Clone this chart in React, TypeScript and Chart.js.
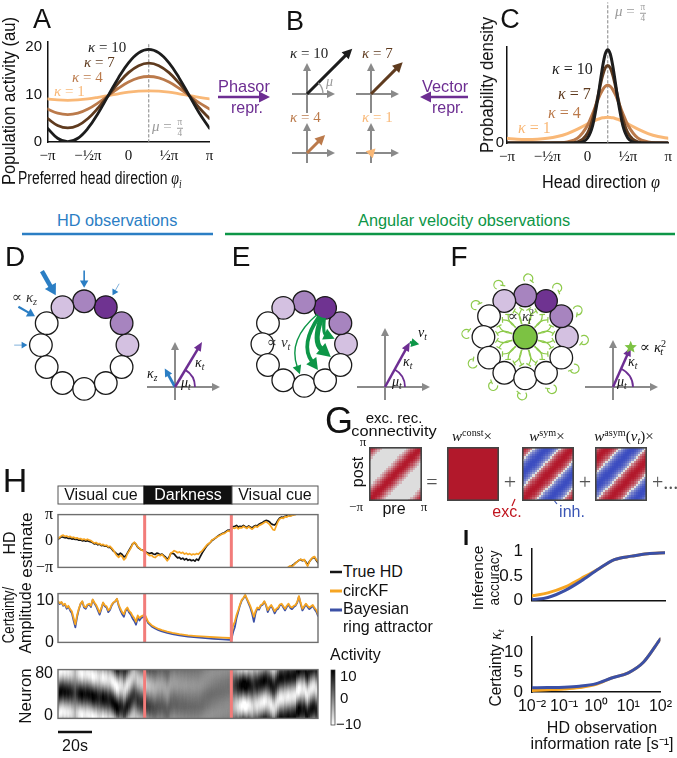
import React, { useEffect, useLayoutEffect, useRef } from "react";
import { Chart, registerables } from "chart.js";
Chart.register(...registerables);

const PI = Math.PI;
const SANS = '"Liberation Sans", Arial, Helvetica, sans-serif';
const SERIF = '"Liberation Serif", "DejaVu Serif", "Times New Roman", serif';
const ORANGE = "#f6a522";
const BLUE = "#3b50a6";
const PURPLE = "#6d2e92";
const GREEN = "#0d9647";
const HDBLUE = "#2b7ec4";
const LGREEN = "#8dca4a";
const REDLINE = "#f27c7a";

// ---------------- DATA ----------------
const piTicks = [-1, -0.5, 0, 0.5, 1];
const piTickLabels = ["−π", "−½π", "0", "½π", "π"];
const muDirPi = 0.25;
const kappaLevels = [10, 7, 4, 1];
const kappaColors = ["#1d1d1d", "#5f3b1f", "#bb7a4b", "#f9b877"];

// Panel A: population activity (φ in units of π)
const phiA = [-1, -0.875, -0.75, -0.625, -0.5, -0.375, -0.25, -0.125, 0, 0.125, 0.25, 0.375, 0.5, 0.625, 0.75, 0.875, 1];
const popK10 = [2.89, 0.79, 0.05, 0.79, 2.89, 6.04, 9.75, 13.46, 16.61, 18.71, 19.45, 18.71, 16.61, 13.46, 9.75, 6.04, 2.89];
const popK7 = [4.94, 3.47, 2.95, 3.47, 4.94, 7.15, 9.75, 12.35, 14.56, 16.03, 16.55, 16.03, 14.56, 12.35, 9.75, 7.15, 4.94];
const popK4 = [6.92, 6.05, 5.75, 6.05, 6.92, 8.22, 9.75, 11.28, 12.58, 13.45, 13.75, 13.45, 12.58, 11.28, 9.75, 8.22, 6.92];
const popK1 = [9.04, 8.83, 8.75, 8.83, 9.04, 9.37, 9.75, 10.13, 10.46, 10.67, 10.75, 10.67, 10.46, 10.13, 9.75, 9.37, 9.04];

// Panel C: probability density (φ in units of π)
const phiC = [-1, -0.875, -0.75, -0.625, -0.5, -0.375, -0.25, -0.125, 0, 0.0625, 0.125, 0.15625, 0.1875, 0.21875, 0.25, 0.28125, 0.3125, 0.34375, 0.375, 0.4375, 0.5, 0.625, 0.75, 0.875, 1];
const densK10 = [0, 0, 0, 0, 0, 0, 0.0001, 0.0026, 0.0665, 0.231, 0.582, 0.809, 1.028, 1.187, 1.245, 1.187, 1.028, 0.809, 0.582, 0.231, 0.0665, 0.0026, 0.0001, 0, 0];
const densK7 = [0, 0, 0, 0, 0, 0.0001, 0.0009, 0.0138, 0.133, 0.318, 0.608, 0.765, 0.905, 1.001, 1.035, 1.001, 0.905, 0.765, 0.608, 0.318, 0.133, 0.0138, 0.0009, 0.0001, 0];
const densK4 = [0.0008, 0.0003, 0.0003, 0.0003, 0.0008, 0.003, 0.0141, 0.0651, 0.238, 0.392, 0.567, 0.647, 0.712, 0.754, 0.769, 0.754, 0.712, 0.647, 0.567, 0.392, 0.238, 0.0651, 0.0141, 0.003, 0.0008];
const densK1 = [0.062, 0.05, 0.0463, 0.05, 0.062, 0.0858, 0.1258, 0.1845, 0.2552, 0.289, 0.317, 0.3276, 0.3355, 0.3404, 0.342, 0.3404, 0.3355, 0.3276, 0.317, 0.289, 0.2552, 0.1845, 0.1258, 0.0858, 0.062];

// Panel B: phasors
const bKappa = [10, 7, 4, 1];
const bMuDeg = 45;

// Panels D/E/F: ring network
const ringAngles = [0, 30, 60, 90, 120, 150, 180, 210, 240, 270, 300, 330];
const ringShade = [1, 2, 3, 2, 1, 0, 0, 0, 0, 0, 0, 0];
const shadeColors = ["#ffffff", "#d4c1e1", "#a784bf", "#6f3391"];
const hdObsAngles = [180, 150, 120, 90, 60];
const hdObsWeights = [0.6, 2.2, 4.5, 1.6, 0.6];
const dKappaT = 8.2, dMuT = 59, dKappaZ = 3.3, dMuZ = 119;
const velSource = 60;
const velTargets = [0, -30, -60, -90];
const velWeights = [3.4, 5.2, 3.8, 1.4];
const eKappaT = 8.0, eMuT = 61, eVtLen = 1.5, eVtDeg = -12;
const fKappaT = 6.8, fMuT = 66;

// Panel G: connectivity profiles vs (post - pre), 24 steps
const gConn = [1, 0.96, 0.82, 0.62, 0.4, 0.2, 0.07, 0, 0, 0, 0, 0, 0, 0, 0, 0, 0, 0, 0.07, 0.2, 0.4, 0.62, 0.82, 0.96];
const gConst = [1, 1, 1, 1, 1, 1, 1, 1, 1, 1, 1, 1, 1, 1, 1, 1, 1, 1, 1, 1, 1, 1, 1, 1];
const gSym = [1, 0.966, 0.866, 0.707, 0.5, 0.259, 0, -0.259, -0.5, -0.707, -0.866, -0.966, -1, -0.966, -0.866, -0.707, -0.5, -0.259, 0, 0.259, 0.5, 0.707, 0.866, 0.966];
const gAsym = [0, -0.259, -0.5, -0.707, -0.866, -0.966, -1, -0.966, -0.866, -0.707, -0.5, -0.259, 0, 0.259, 0.5, 0.707, 0.866, 0.966, 1, 0.966, 0.866, 0.707, 0.5, 0.259];

// Panel H: time series (s)
const darkStart = 50, darkEnd = 100;
const hdTime = Array.from({ length: 151 }, (_, i) => i);
const trueHD = [0.2, 0.35, 0.5, 0.45, 0.38, 0.42, 0.3, 0.35, 0.22, 0.28,
  0.18, 0.2, 0.1, 0.12, 0.02, 0.08, -0.02, 0.05, -0.05, -0.1,
  -0.2, -0.35, -0.28, -0.45, -0.38, -0.55, -0.5, -0.62, -0.58, -0.75,
  -0.72, -0.95, -1.2, -1.35, -1.55, -1.65, -1.45, -1.6, -1.9, -1.8,
  -1.45, -1.1, -0.75, -0.35, -0.2, -0.4, -0.75, -0.9, -1.05, -1.1,
  -1.2, -1.35, -1.45, -1.5, -1.4, -1.55, -1.6, -1.45, -1.5, -1.65,
  -1.55, -1.75, -1.9, -2.2, -1.95, -1.5, -1.45, -1.55, -1.8, -2.0,
  -1.95, -2.15, -2.05, -2.25, -2.1, -2.3, -2.2, -2.35, -2.25, -2.4,
  -2.15, -2.3, -1.9, -1.5, -1.15, -0.85, -0.55, -0.35, -0.15, 0.1,
  0.22, 0.38, 0.55, 0.7, 0.8, 0.92, 0.98, 1.15, 1.3, 1.25,
  1.5, 1.7, 1.75, 1.85, 1.65, 1.75, 1.7, 1.85, 1.7, 1.6,
  1.8, 1.65, 1.55, 1.75, 1.85, 1.8, 2.0, 2.1, 2.2, 2.35,
  2.45, 2.4, 2.3, 2.05, 1.95, 1.9, 2.15, 2.5, 2.75, 2.85,
  2.8, 2.95, 3.0, 3.05, 3.0, 3.1, 3.14, null, null, null,
  null, null, null, null, null, null, null, null, null, null, null];
const kfHD = [0.3, 0.45, 0.62, 0.7, 0.55, 0.6, 0.48, 0.55, 0.4, 0.45,
  0.32, 0.38, 0.25, 0.3, 0.15, 0.24, 0.12, 0.22, 0.1, 0.05,
  -0.12, -0.25, -0.18, -0.35, -0.3, -0.47, -0.4, -0.55, -0.5, -0.7,
  -0.62, -0.85, -1.1, -1.45, -1.75, -1.95, -1.7, -1.85, -2.25, -2.05,
  -1.55, -1.2, -0.85, -0.4, -0.15, -0.35, -0.7, -0.85, -1.05, -1.15,
  -1.25, -1.45, -1.6, -1.75, -1.7, -1.9, -1.97, -1.8, -1.65, -1.75,
  -1.6, -1.85, -2.05, -2.35, -2.1, -1.45, -1.35, -1.15, -1.25, -1.4,
  -1.3, -1.45, -1.35, -1.55, -1.45, -1.6, -1.5, -1.65, -1.55, -1.62,
  -1.5, -1.58, -1.35, -1.2, -0.95, -0.7, -0.45, -0.3, -0.1, 0.15,
  0.25, 0.4, 0.5, 0.62, 0.75, 0.85, 0.9, 1.05, 1.2, 1.15,
  1.35, 1.55, 1.5, 1.65, 1.45, 1.6, 1.55, 1.75, 1.6, 1.5,
  1.7, 1.55, 1.4, 1.6, 1.75, 1.65, 1.85, 1.95, 2.05, 2.2,
  2.3, 2.15, 2.0, 1.7, 1.35, 1.3, 1.85, 2.35, 2.65, 2.75,
  2.7, 2.9, 2.85, 3.0, 2.95, 3.05, 3.1, 3.14, null, null,
  null, null, null, null, null, null, null, null, null, null, null];
const wrapTime = [133, 134, 135, 136, 137, 138, 139, 140, 141, 142, 143, 144, 145, 146, 147, 148, 149, 150];
const trueHDWrap = [-3.14, -3.05, -2.95, -2.8, -2.6, -2.45, -2.3, -2.2, -2.35, -2.25, -2.5, -2.85, -2.45, -2.2, -2.0, -1.95, -2.3, -2.6];
const kfHDWrap = [-3.1, -2.95, -3.08, -2.85, -2.65, -2.45, -2.3, -2.15, -2.3, -2.2, -2.6, -3.0, -2.5, -2.15, -1.95, -1.85, -2.2, -2.45];
const darkTimes = [52, 54, 56, 58, 60, 63, 66, 70, 75, 80, 85, 90, 95, 99];
const certTime = [...Array.from({ length: 51 }, (_, i) => i), ...darkTimes, ...Array.from({ length: 51 }, (_, i) => 100 + i)];
const kfCert = [9.8, 9.3, 9.6, 8.9, 9.2, 8.3, 8.7, 7.9, 7.4, 5.8,
  4.3, 6.5, 8.0, 9.2, 9.8, 8.6, 8.3, 9.0, 9.2, 8.7,
  10.2, 9.5, 8.9, 8.0, 7.1, 8.2, 9.5, 8.8, 8.6, 7.6,
  8.0, 9.0, 9.5, 9.8, 10.4, 9.0, 8.0, 7.2, 6.7, 7.8,
  8.3, 7.5, 7.1, 6.3, 5.8, 4.9, 6.4, 5.8, 6.2, 6.4, 6.7,
  4.9, 4.1, 3.6, 3.2, 2.9, 2.55, 2.25, 1.95, 1.68, 1.5, 1.35, 1.22, 1.12, 1.05,
  1.0, 4.0, 4.9, 6.5, 7.7, 9.0, 10.1, 10.6, 11.3, 10.4,
  9.5, 8.6, 7.4, 6.1, 7.5, 8.3, 8.1, 8.9, 9.1, 9.8,
  9.0, 7.7, 8.4, 8.9, 8.2, 7.4, 8.0, 8.3, 9.0, 9.2,
  8.6, 8.0, 8.7, 9.2, 8.5, 8.3, 8.7, 8.9, 9.6, 11.0,
  9.4, 8.0, 8.6, 9.2, 8.7, 8.3, 8.6, 8.9, 8.2, 7.7, 6.7];
const bayesCert = [9.7, 9.1, 9.5, 8.7, 9.0, 8.0, 8.5, 7.6, 6.9, 5.2,
  3.6, 6.0, 7.8, 9.1, 9.7, 8.3, 8.0, 8.8, 9.0, 8.4,
  10.1, 9.3, 8.6, 7.6, 6.6, 7.9, 9.4, 8.6, 8.3, 7.2,
  7.7, 8.8, 9.4, 9.7, 10.3, 8.7, 7.6, 6.7, 6.1, 7.5,
  8.0, 7.1, 6.6, 5.7, 5.1, 4.2, 5.9, 5.2, 5.8, 6.0, 6.4,
  4.6, 3.8, 3.3, 2.9, 2.6, 2.25, 1.95, 1.65, 1.38, 1.18, 1.0, 0.85, 0.72, 0.62,
  0.6, 2.4, 3.6, 5.8, 7.3, 8.8, 9.9, 10.5, 11.2, 10.2,
  9.2, 8.2, 6.8, 4.9, 7.0, 8.0, 7.8, 8.7, 8.9, 9.7,
  8.8, 7.2, 8.1, 8.7, 7.9, 6.9, 7.7, 8.0, 8.8, 9.0,
  8.3, 7.6, 8.4, 9.0, 8.2, 7.9, 8.4, 8.7, 9.4, 10.9,
  9.1, 7.6, 8.3, 9.0, 8.4, 7.9, 8.3, 8.7, 7.9, 7.3, 6.3];
const neuronCount = 80;

// Panel I
const infoRate = [0.01, 0.03, 0.1, 0.3, 1, 3, 10, 30, 100];
const accKF = [0.1, 0.16, 0.28, 0.45, 0.64, 0.83, 0.9, 0.95, 0.97];
const accBayes = [0.02, 0.067, 0.21, 0.4, 0.64, 0.83, 0.9, 0.95, 0.97];
const certKFI = [0.4, 0.55, 0.75, 1.1, 1.9, 3.5, 4.8, 7.5, 13.3];
const certBayesI = [1.08, 1.12, 1.2, 1.45, 2.1, 3.5, 4.8, 7.5, 13.3];
const logTicks = [0.01, 0.1, 1, 10, 100];
const logTickLabels = ["10⁻²", "10⁻¹", "10⁰", "10¹", "10²"];

// ---------------- helpers ----------------
function base(extra: any) {
  return {
    animation: false, responsive: false, maintainAspectRatio: false, devicePixelRatio: 1, events: [],
    plugins: { legend: { display: false }, tooltip: { enabled: false } },
    elements: { point: { radius: 0 }, line: { borderCapStyle: "round", borderJoinStyle: "round" } },
    ...extra,
  };
}
function mkY(min: number, max: number, ticks: number[], labels: string[], font: any, width: number, pad = 5, border = true) {
  return {
    type: "linear", min, max,
    afterFit: (s: any) => { s.width = width; },
    afterBuildTicks: (s: any) => { s.ticks = ticks.map((v) => ({ value: v })); },
    grid: { display: false, drawTicks: false },
    border: { display: border, color: "#111", width: 1.5 },
    ticks: { autoSkip: false, padding: pad, color: "#111", font, callback: (_v: any, i: number) => labels[i] },
  };
}
function mkX(type: string, min: number, max: number, ticks: number[], labels: string[], font: any, height: number, pad = 5, show = true) {
  return {
    type, min, max,
    afterFit: (s: any) => { s.height = height; },
    afterBuildTicks: (s: any) => { s.ticks = ticks.map((v) => ({ value: v })); },
    grid: { display: false, drawTicks: false },
    border: { display: true, color: "#111", width: 1.5 },
    ticks: { display: show, autoSkip: false, maxRotation: 0, minRotation: 0, padding: pad, color: "#111", font, callback: (_v: any, i: number) => labels[i] },
  };
}
function drawArrow(ctx: any, x0: number, y0: number, x1: number, y1: number, color: string, lw: number, hl: number, hw: number) {
  const dx = x1 - x0, dy = y1 - y0;
  const L = Math.hypot(dx, dy) || 1;
  const ux = dx / L, uy = dy / L;
  const bx = x1 - ux * hl, by = y1 - uy * hl;
  ctx.save();
  ctx.strokeStyle = color; ctx.fillStyle = color; ctx.lineWidth = lw; ctx.lineCap = "butt";
  if (L > hl) { ctx.beginPath(); ctx.moveTo(x0, y0); ctx.lineTo(bx + ux, by + uy); ctx.stroke(); }
  ctx.beginPath(); ctx.moveTo(x1, y1);
  ctx.lineTo(bx - (uy * hw) / 2, by + (ux * hw) / 2);
  ctx.lineTo(bx + (uy * hw) / 2, by - (ux * hw) / 2);
  ctx.closePath(); ctx.fill();
  ctx.restore();
}
function drawCurvedArrow(ctx: any, p0: any, pc: any, p1: any, color: string, lw: number, hl: number, hw: number) {
  const tx = p1.x - pc.x, ty = p1.y - pc.y;
  const L = Math.hypot(tx, ty) || 1;
  const ux = tx / L, uy = ty / L;
  const bx = p1.x - ux * hl, by = p1.y - uy * hl;
  ctx.save();
  ctx.strokeStyle = color; ctx.fillStyle = color; ctx.lineWidth = lw; ctx.lineCap = "butt";
  ctx.beginPath(); ctx.moveTo(p0.x, p0.y); ctx.quadraticCurveTo(pc.x, pc.y, bx + ux, by + uy); ctx.stroke();
  ctx.beginPath(); ctx.moveTo(p1.x, p1.y);
  ctx.lineTo(bx - (uy * hw) / 2, by + (ux * hw) / 2);
  ctx.lineTo(bx + (uy * hw) / 2, by - (ux * hw) / 2);
  ctx.closePath(); ctx.fill();
  ctx.restore();
}
const arrowPlugin = {
  id: "arrowHeads",
  afterDatasetsDraw(chart: any) {
    chart.data.datasets.forEach((ds: any, i: number) => {
      if (!ds.arrow) return;
      const p = chart.getDatasetMeta(i).data;
      const a = p[0], b = p[p.length - 1];
      drawArrow(chart.ctx, a.x, a.y, b.x, b.y, ds.arrow.color, ds.arrow.lw, ds.arrow.hl, ds.arrow.hw);
    });
  },
};
const boxPlugin = {
  id: "box",
  afterDatasetsDraw(chart: any) {
    const { ctx, chartArea: a } = chart;
    ctx.save(); ctx.strokeStyle = "#6e6e6e"; ctx.lineWidth = 1.4;
    ctx.strokeRect(a.left, a.top, a.right - a.left, a.bottom - a.top);
    ctx.restore();
  },
};
const pts = (arr: any[], times: number[]) => times.map((t, i) => ({ x: t, y: arr[i] }));

function ChartBox({ x, y, w, h, cfg }: any) {
  const ref = useRef<HTMLCanvasElement>(null);
  useEffect(() => {
    const ch = new Chart(ref.current as any, cfg());
    return () => ch.destroy();
  }, []);
  return <canvas ref={ref} width={w} height={h} style={{ position: "absolute", left: x, top: y, width: w, height: h }} />;
}

function T({ x, y, s = 16, c = "#111", f = SANS, a = "l", r = false, w, b = false, children }: any) {
  const ref = useRef<HTMLSpanElement>(null);
  const origin = r ? "center" : a === "l" ? "left center" : a === "c" ? "center" : "right center";
  const tx = r ? "-50%" : a === "l" ? "0" : a === "c" ? "-50%" : "-100%";
  const tf = `translate(${tx},-50%)` + (r ? " rotate(-90deg)" : "");
  useLayoutEffect(() => {
    const el = ref.current;
    if (!el || !w) return;
    const nat = el.offsetWidth;
    if (nat > 0) el.style.transform = `${tf} scaleX(${w / nat})`;
  }, []);
  return (
    <span ref={ref} style={{ position: "absolute", left: x, top: y, fontSize: s, color: c, fontFamily: f, fontWeight: b ? "bold" : "normal", lineHeight: 1, whiteSpace: "nowrap", transform: tf, transformOrigin: origin }}>
      {children}
    </span>
  );
}
const It = ({ children }: any) => <span style={{ fontStyle: "italic", fontFamily: SERIF }}>{children}</span>;
const Sub = ({ children }: any) => <span style={{ fontSize: "0.68em", position: "relative", top: "0.3em" }}>{children}</span>;
const Sup = ({ children }: any) => <span style={{ fontSize: "0.68em", position: "relative", top: "-0.45em" }}>{children}</span>;
const Fr = ({ n, d }: any) => (
  <span style={{ display: "inline-flex", flexDirection: "column", alignItems: "center", fontSize: "0.62em", verticalAlign: "middle", lineHeight: 1.05, margin: "0 1px" }}>
    <span style={{ borderBottom: "1px solid currentColor", padding: "0 1px" }}>{n}</span>
    <span>{d}</span>
  </span>
);

// ---------------- chart configs ----------------
function cfgA() {
  const popA = [popK10, popK7, popK4, popK1];
  const datasets: any[] = kappaLevels.map((_, k) => ({
    data: phiA.map((p, i) => ({ x: p * PI, y: popA[k][i] })),
    borderColor: kappaColors[k], borderWidth: 2.8, tension: 0.4, pointRadius: 0,
  }));
  datasets.push({ data: [{ x: muDirPi * PI, y: 0 }, { x: muDirPi * PI, y: 21 }], borderColor: "#8f8f8f", borderWidth: 1.1, borderDash: [2.5, 2.5], pointRadius: 0 });
  return {
    type: "line", data: { datasets },
    options: base({
      layout: { padding: { top: 42, right: 15.5, left: 0, bottom: 0 } },
      scales: {
        x: mkX("linear", -PI, PI, piTicks.map((v) => v * PI), piTickLabels, { size: 15, family: SERIF }, 48, 5),
        y: mkY(0, 21, [0, 10, 20], ["0", "10", "20"], { size: 15, family: SANS }, 47.5, 5.5),
      },
    }),
  };
}
function cfgC() {
  const dens = [densK10, densK7, densK4, densK1];
  const datasets: any[] = kappaLevels.map((_, k) => ({
    data: phiC.map((p, i) => ({ x: p * PI, y: dens[k][i] })),
    borderColor: kappaColors[k], borderWidth: 3, cubicInterpolationMode: "monotone", pointRadius: 0,
  }));
  datasets.push({ data: [{ x: muDirPi * PI, y: 0 }, { x: muDirPi * PI, y: 1.87 }], borderColor: "#8f8f8f", borderWidth: 1.1, borderDash: [2.5, 2.5], pointRadius: 0, clip: false });
  return {
    type: "line", data: { datasets },
    options: base({
      layout: { padding: { top: 47, right: 5, left: 0, bottom: 0 } },
      scales: {
        x: mkX("linear", -PI, PI, piTicks.map((v) => v * PI), piTickLabels, { size: 15, family: SERIF }, 47, 5),
        y: mkY(0, 1.28, [0], ["0"], { size: 15, family: SANS }, 77, 3),
      },
    }),
  };
}
function vecCfg(p: any) {
  const { box, o, unit, ax, vecs, arc, star } = p;
  const [bx, by, bw, bh] = box;
  const [ox, oy] = o;
  const hidden = { showLine: false, pointRadius: 0, clip: false };
  const axA = { color: "#8a8a8a", lw: 2, hl: 8, hw: 8 };
  const datasets: any[] = [
    { data: [{ x: ax[0] / unit, y: 0 }, { x: ax[1] / unit, y: 0 }], arrow: axA, ...hidden },
    { data: [{ x: 0, y: ax[2] / unit }, { x: 0, y: ax[3] / unit }], arrow: axA, ...hidden },
  ];
  vecs.forEach((v: any) => {
    const r = (v.deg * PI) / 180;
    const x0 = v.from ? v.from[0] : 0, y0 = v.from ? v.from[1] : 0;
    datasets.push({ data: [{ x: x0, y: y0 }, { x: x0 + v.k * Math.cos(r), y: y0 + v.k * Math.sin(r) }], arrow: { color: v.color, lw: v.lw, hl: v.hl, hw: v.hw }, ...hidden });
  });
  const extra = {
    id: "vecExtra",
    afterDatasetsDraw(chart: any) {
      const { ctx, scales: { x, y } } = chart;
      const cx = x.getPixelForValue(0), cy = y.getPixelForValue(0);
      if (arc) {
        ctx.save(); ctx.strokeStyle = arc.color; ctx.lineWidth = arc.lw;
        ctx.beginPath(); ctx.arc(cx, cy, arc.r, (-arc.deg * PI) / 180, 0); ctx.stroke(); ctx.restore();
      }
      if (star) {
        const v = vecs[0]; const r = (v.deg * PI) / 180;
        const sx = x.getPixelForValue(v.k * Math.cos(r)), sy = y.getPixelForValue(v.k * Math.sin(r));
        ctx.save(); ctx.fillStyle = star.color; ctx.beginPath();
        for (let i = 0; i < 10; i++) {
          const rr = i % 2 === 0 ? star.r : star.r * 0.45;
          const ang = -PI / 2 + (i * PI) / 5;
          const px = sx + rr * Math.cos(ang), py = sy + rr * Math.sin(ang);
          if (i === 0) ctx.moveTo(px, py); else ctx.lineTo(px, py);
        }
        ctx.closePath(); ctx.fill(); ctx.restore();
      }
    },
  };
  return {
    type: "scatter", data: { datasets },
    options: base({
      scales: {
        x: { type: "linear", display: false, min: (bx - ox) / unit, max: (bx + bw - ox) / unit },
        y: { type: "linear", display: false, min: (oy - by - bh) / unit, max: (oy - by) / unit },
      },
    }),
    plugins: [arrowPlugin, extra],
  };
}
function Vec(p: any) {
  const [bx, by, bw, bh] = p.box;
  return <ChartBox x={bx} y={by} w={bw} h={bh} cfg={() => vecCfg(p)} />;
}

const dPlugin = {
  id: "dObs",
  afterDatasetsDraw(chart: any) {
    const { ctx, scales: { x, y } } = chart;
    const R = x.getPixelForValue(1) - x.getPixelForValue(0);
    hdObsAngles.forEach((deg, k) => {
      const a = (deg * PI) / 180, w = hdObsWeights[k];
      const rEnd = 1 + 13.5 / R, rStart = rEnd + (11 + 3.7 * w) / R;
      drawArrow(ctx, x.getPixelForValue(rStart * Math.cos(a)), y.getPixelForValue(rStart * Math.sin(a)),
        x.getPixelForValue(rEnd * Math.cos(a)), y.getPixelForValue(rEnd * Math.sin(a)), HDBLUE, w, 5 + 1.3 * w, 6 + 1.5 * w);
    });
  },
};
const ePlugin = {
  id: "eVel",
  afterDatasetsDraw(chart: any) {
    const { ctx, scales: { x, y } } = chart;
    const P = (u: number, v: number) => ({ x: x.getPixelForValue(u), y: y.getPixelForValue(v) });
    const sa = (velSource * PI) / 180;
    const su = { x: Math.cos(sa), y: Math.sin(sa) };
    const ps = P(su.x, su.y);
    velTargets.forEach((deg, k) => {
      const ta = (deg * PI) / 180;
      const tu = { x: Math.cos(ta), y: Math.sin(ta) };
      const mid = { x: (su.x + tu.x) / 2, y: (su.y + tu.y) / 2 };
      const ch = { x: tu.x - su.x, y: tu.y - su.y };
      const pc = P(mid.x + ch.y * 0.35, mid.y - ch.x * 0.35);
      const pt = P(tu.x, tu.y);
      const mv = (p: any, q: any, d: number) => { const L = Math.hypot(q.x - p.x, q.y - p.y) || 1; return { x: p.x + ((q.x - p.x) / L) * d, y: p.y + ((q.y - p.y) / L) * d }; };
      const start = mv(ps, pc, 10), end = mv(pt, pc, 12.5);
      const w = velWeights[k];
      drawCurvedArrow(ctx, start, pc, end, GREEN, w, 7 + 1.2 * w, 7 + 1.4 * w);
    });
  },
};
const fPlugin = {
  id: "fInh",
  beforeDatasetsDraw(chart: any) {
    const { ctx, scales: { x, y } } = chart;
    const c = { x: x.getPixelForValue(0), y: y.getPixelForValue(0) };
    ctx.save(); ctx.strokeStyle = LGREEN; ctx.lineWidth = 1.2;
    ringAngles.forEach((deg) => {
      const a = (deg * PI) / 180;
      const p = { x: x.getPixelForValue(Math.cos(a)), y: y.getPixelForValue(Math.sin(a)) };
      const L = Math.hypot(p.x - c.x, p.y - c.y);
      const ux = (p.x - c.x) / L, uy = (p.y - c.y) / L;
      const nx = -uy, ny = ux;
      [-1, 1].forEach((s) => {
        const st = { x: c.x + ux * 13 + nx * s * 3, y: c.y + uy * 13 + ny * s * 3 };
        const en = { x: p.x - ux * 13.5 + nx * s * 3.5, y: p.y - uy * 13.5 + ny * s * 3.5 };
        const cp = { x: (st.x + en.x) / 2 + nx * s * 5, y: (st.y + en.y) / 2 + ny * s * 5 };
        ctx.beginPath(); ctx.moveTo(st.x, st.y); ctx.quadraticCurveTo(cp.x, cp.y, en.x, en.y); ctx.stroke();
        const tx = en.x - cp.x, ty = en.y - cp.y; const tl = Math.hypot(tx, ty) || 1;
        const bx = -ty / tl, by = tx / tl;
        ctx.beginPath(); ctx.moveTo(en.x + bx * 2.8, en.y + by * 2.8); ctx.lineTo(en.x - bx * 2.8, en.y - by * 2.8); ctx.stroke();
      });
      const lc = { x: p.x + ux * 17 + nx * 3, y: p.y + uy * 17 + ny * 3 };
      const g = Math.atan2(-uy, -ux);
      ctx.beginPath(); ctx.arc(lc.x, lc.y, 4.5, g + 0.9, g + 2 * PI - 0.9); ctx.stroke();
      const ea = g + 2 * PI - 0.9;
      const ex = lc.x + 4.5 * Math.cos(ea), ey = lc.y + 4.5 * Math.sin(ea);
      ctx.beginPath(); ctx.moveTo(ex - 2.5 * Math.cos(ea), ey - 2.5 * Math.sin(ea)); ctx.lineTo(ex + 2.5 * Math.cos(ea), ey + 2.5 * Math.sin(ea)); ctx.stroke();
    });
    ctx.restore();
  },
};
function ringCfg(kind: string, w: number, h: number, cx: number, cy: number, R: number) {
  const ring = ringAngles.map((a) => ({ x: Math.cos((a * PI) / 180), y: Math.sin((a * PI) / 180) }));
  const datasets: any[] = [];
  if (kind === "F") datasets.push({ data: [{ x: 0, y: 0 }], pointRadius: 12, pointBackgroundColor: "#7cc243", pointBorderColor: "#1b1b1b", pointBorderWidth: 1.4, clip: false });
  datasets.push({ data: ring, pointRadius: 11.3, pointBackgroundColor: ringShade.map((s) => shadeColors[s]), pointBorderColor: "#1b1b1b", pointBorderWidth: 1.3, clip: false });
  const plugin = kind === "D" ? dPlugin : kind === "E" ? ePlugin : fPlugin;
  return {
    type: "scatter", data: { datasets },
    options: base({
      scales: {
        x: { type: "linear", display: false, min: -cx / R, max: (w - cx) / R },
        y: { type: "linear", display: false, min: -(h - cy) / R, max: cy / R },
      },
    }),
    plugins: [plugin],
  };
}
function Ring({ kind, box, c, R }: any) {
  const [bx, by, bw, bh] = box;
  return <ChartBox x={bx} y={by} w={bw} h={bh} cfg={() => ringCfg(kind, bw, bh, c[0] - bx, c[1] - by, R)} />;
}

function divColor(v: number) {
  const lo = [59, 76, 192], mid = [221, 221, 221], hi = [178, 24, 43];
  const t = Math.max(-1, Math.min(1, v));
  const end = t < 0 ? lo : hi;
  const f = Math.pow(Math.abs(t), 0.6);
  const c = mid.map((m, i) => Math.round(m + (end[i] - m) * f));
  return `rgb(${c[0]},${c[1]},${c[2]})`;
}
function matCfg(profile: number[]) {
  const N = profile.length;
  return {
    type: "scatter", data: { datasets: [] },
    options: base({ scales: { x: { type: "linear", display: false, min: 0, max: N }, y: { type: "linear", display: false, min: 0, max: N } } }),
    plugins: [{
      id: "mat",
      beforeDatasetsDraw(chart: any) {
        const { ctx, scales: { x, y }, chartArea: a } = chart;
        for (let i = 0; i < N; i++) {
          for (let j = 0; j < N; j++) {
            const v = profile[(i - j + N) % N];
            const x0 = x.getPixelForValue(j), x1 = x.getPixelForValue(j + 1);
            const y0 = y.getPixelForValue(i + 1), y1 = y.getPixelForValue(i);
            ctx.fillStyle = divColor(v);
            ctx.fillRect(Math.floor(x0), Math.floor(y0), Math.ceil(x1) - Math.floor(x0), Math.ceil(y1) - Math.floor(y0));
          }
        }
        ctx.save(); ctx.strokeStyle = "#444"; ctx.lineWidth = 1.6;
        ctx.strokeRect(a.left + 0.8, a.top + 0.8, a.right - a.left - 1.6, a.bottom - a.top - 1.6); ctx.restore();
      },
    }],
  };
}

const redLines = (lo: number, hi: number) => [darkStart, darkEnd].map((t) => ({ data: [{ x: t, y: lo }, { x: t, y: hi }], borderColor: REDLINE, borderWidth: 3, pointRadius: 0, borderCapStyle: "butt" }));
function cfgHD() {
  const w = { borderWidth: 1.7, pointRadius: 0 };
  return {
    type: "line",
    data: { datasets: [
      ...redLines(-PI, PI),
      { data: pts(kfHD, hdTime), borderColor: ORANGE, ...w },
      { data: pts(kfHDWrap, wrapTime), borderColor: ORANGE, ...w },
      { data: pts(trueHD, hdTime), borderColor: "#151515", ...w },
      { data: pts(trueHDWrap, wrapTime), borderColor: "#151515", ...w },
    ] },
    options: base({
      layout: { padding: { top: 12, right: 7, left: 0, bottom: 6 } },
      scales: { x: { type: "linear", display: false, min: 0, max: 150 }, y: mkY(-PI, PI, [-PI, 0, PI], ["−π", "0", "π"], { size: 16, family: SERIF }, 58, 5, false) },
    }),
    plugins: [boxPlugin],
  };
}
function cfgCert() {
  const w = { borderWidth: 1.8, pointRadius: 0 };
  return {
    type: "line",
    data: { datasets: [
      ...redLines(0, 11.6),
      { data: pts(kfCert, certTime), borderColor: ORANGE, ...w },
      { data: pts(bayesCert, certTime), borderColor: BLUE, ...w },
    ] },
    options: base({
      layout: { padding: { top: 7, right: 7, left: 0, bottom: 5.5 } },
      scales: { x: { type: "linear", display: false, min: 0, max: 150 }, y: mkY(0, 11.6, [0, 10], ["0", "10"], { size: 16, family: SANS }, 58, 4, false) },
    }),
    plugins: [boxPlugin],
  };
}
function hdAt(i: number) {
  const v = kfHD[i];
  if (v !== null && v !== undefined) return v;
  const j = i - wrapTime[0];
  return kfHDWrap[Math.max(0, Math.min(kfHDWrap.length - 1, j))];
}
function ampAt(t: number) {
  let v = kfCert[0];
  for (let j = 0; j < certTime.length; j++) if (certTime[j] <= t) v = kfCert[j];
  return v;
}
function cfgHeat() {
  const rows: number[] = [];
  for (let n = -6; n <= 89; n++) rows.push(n);
  const table = hdTime.map((t, i) => {
    const hd = hdAt(i), amp = ampAt(t);
    return rows.map((n) => {
      const m = ((n % neuronCount) + neuronCount) % neuronCount;
      const th = -PI + (2 * PI * (m + 0.5)) / neuronCount;
      return amp * Math.cos(th - hd);
    });
  });
  return {
    type: "line",
    data: { datasets: redLines(-5.5, 88.5) },
    options: base({
      layout: { padding: { top: 8, right: 7, left: 0, bottom: 6 } },
      scales: { x: { type: "linear", display: false, min: 0, max: 150 }, y: mkY(-5.5, 88.5, [0, 80], ["0", "80"], { size: 16, family: SANS }, 58, 5, false) },
    }),
    plugins: [{
      id: "heat",
      beforeDatasetsDraw(chart: any) {
        const { ctx, scales: { x, y }, chartArea: a } = chart;
        ctx.save();
        ctx.beginPath(); ctx.rect(a.left, a.top, a.right - a.left, a.bottom - a.top); ctx.clip();
        hdTime.forEach((t, i) => {
          const x0 = x.getPixelForValue(Math.max(0, t - 0.5)), x1 = x.getPixelForValue(Math.min(150, t + 0.5));
          rows.forEach((n, k) => {
            const v = table[i][k];
            const g = Math.max(0, Math.min(255, Math.round((255 * (10 - v)) / 20)));
            ctx.fillStyle = `rgb(${g},${g},${g})`;
            const y0 = y.getPixelForValue(n + 0.5), y1 = y.getPixelForValue(n - 0.5);
            ctx.fillRect(x0, y0, x1 - x0 + 0.6, y1 - y0 + 0.6);
          });
        });
        ctx.restore();
      },
    }, boxPlugin],
  };
}
function cfgIacc() {
  return {
    type: "line",
    data: { datasets: [
      { data: pts(accBayes, infoRate), borderColor: BLUE, borderWidth: 3, cubicInterpolationMode: "monotone", pointRadius: 0 },
      { data: pts(accKF, infoRate), borderColor: ORANGE, borderWidth: 3, cubicInterpolationMode: "monotone", pointRadius: 0 },
    ] },
    options: base({
      layout: { padding: { top: 10, right: 12, left: 0, bottom: 0 } },
      scales: {
        x: mkX("logarithmic", 0.01, 100, logTicks, logTickLabels, { size: 16, family: SANS }, 7, 5, false),
        y: mkY(0, 1.04, [0, 0.5, 1], ["0", "0.5", "1"], { size: 17, family: SANS }, 72, 9),
      },
    }),
  };
}
function cfgIcert() {
  return {
    type: "line",
    data: { datasets: [
      { data: pts(certBayesI, infoRate), borderColor: BLUE, borderWidth: 3, cubicInterpolationMode: "monotone", pointRadius: 0 },
      { data: pts(certKFI, infoRate), borderColor: ORANGE, borderWidth: 3, cubicInterpolationMode: "monotone", pointRadius: 0 },
    ] },
    options: base({
      layout: { padding: { top: 7, right: 12, left: 0, bottom: 0 } },
      scales: {
        x: mkX("logarithmic", 0.01, 100, logTicks, logTickLabels, { size: 16, family: SANS }, 26, 5, true),
        y: mkY(0, 13.7, [0, 5, 10], ["0", "5", "10"], { size: 17, family: SANS }, 72, 9),
      },
    }),
  };
}

// ---------------- App ----------------
export default function App() {
  const deg = (d: number) => (d * PI) / 180;
  const eTip = [eKappaT * Math.cos(deg(eMuT)), eKappaT * Math.sin(deg(eMuT))];
  return (
    <div style={{ position: "absolute", left: 0, top: 0, width: 677, height: 758, background: "#fff", overflow: "hidden", fontFamily: SANS }}>
      <svg width={677} height={758} style={{ position: "absolute", left: 0, top: 0 }}>
        <line x1={218} y1={97} x2={261} y2={97} stroke={PURPLE} strokeWidth={2.6} />
        <polygon points="270,97 259,91.5 259,102.5" fill={PURPLE} />
        <line x1={468} y1={97} x2={429} y2={97} stroke={PURPLE} strokeWidth={2.6} />
        <polygon points="420,97 431,91.5 431,102.5" fill={PURPLE} />
        <line x1={22} y1={234} x2={213} y2={234} stroke={HDBLUE} strokeWidth={2.5} />
        <line x1={225} y1={234} x2={675} y2={234} stroke={GREEN} strokeWidth={2.5} />
        <rect x={58} y={486} width={86} height={18} fill="#fff" stroke="#555" strokeWidth={1} />
        <rect x={144} y={486} width={88} height={18} fill="#111" stroke="#111" strokeWidth={1} />
        <rect x={232} y={486} width={86} height={18} fill="#fff" stroke="#555" strokeWidth={1} />
        <line x1={58} y1={732} x2={92} y2={732} stroke="#111" strokeWidth={2.5} />
        <line x1={330} y1={572} x2={342} y2={572} stroke="#151515" strokeWidth={2.5} />
        <line x1={330} y1={591} x2={342} y2={591} stroke={ORANGE} strokeWidth={3} />
        <line x1={330} y1={610} x2={342} y2={610} stroke={BLUE} strokeWidth={3} />
        <defs>
          <linearGradient id="cb" x1="0" y1="0" x2="0" y2="1">
            <stop offset="0" stopColor="#000" />
            <stop offset="1" stopColor="#fff" />
          </linearGradient>
        </defs>
        <rect x={331} y={670} width={4} height={55} fill="url(#cb)" stroke="#333" strokeWidth={0.7} />
        <line x1={515} y1={499} x2={512} y2={506} stroke="#c0141e" strokeWidth={1.2} />
        <line x1={553} y1={499} x2={557} y2={504} stroke="#3a55b5" strokeWidth={1.2} />
      </svg>

      {/* Row 1 charts */}
      <ChartBox x={0} y={0} w={225} h={190} cfg={cfgA} />
      <ChartBox x={430} y={0} w={247} h={190} cfg={cfgC} />
      <Vec box={[285, 35, 80, 85]} o={[307, 94]} unit={6.4} ax={[-15, 28, -19, 31]} vecs={[{ k: bKappa[0], deg: bMuDeg, color: kappaColors[0], lw: 3, hl: 10, hw: 10 }]} arc={{ r: 16, deg: bMuDeg, color: "#9a9a9a", lw: 1.3 }} />
      <Vec box={[350, 40, 60, 80]} o={[371, 94]} unit={6.4} ax={[-15, 28, -19, 31]} vecs={[{ k: bKappa[1], deg: bMuDeg, color: kappaColors[1], lw: 3, hl: 10, hw: 10 }]} />
      <Vec box={[285, 118, 60, 50]} o={[307, 153]} unit={6.4} ax={[-15, 28, -10, 30]} vecs={[{ k: bKappa[2], deg: bMuDeg, color: kappaColors[2], lw: 3, hl: 10, hw: 10 }]} />
      <Vec box={[350, 118, 60, 50]} o={[371, 153]} unit={6.4} ax={[-15, 28, -10, 30]} vecs={[{ k: bKappa[3], deg: bMuDeg, color: kappaColors[3], lw: 3, hl: 9, hw: 10 }]} />

      {/* Row 2 charts */}
      <Ring kind="D" box={[0, 255, 150, 160]} c={[86, 347]} R={52} />
      <Ring kind="E" box={[235, 270, 140, 140]} c={[304, 345]} R={51} />
      <Ring kind="F" box={[445, 258, 162, 157]} c={[525, 337]} R={50} />
      <Vec box={[140, 330, 85, 75]} o={[175, 387]} unit={6.4} ax={[-28, 45, -13, 45]}
        vecs={[{ k: dKappaZ, deg: dMuZ, color: HDBLUE, lw: 2.8, hl: 8, hw: 8 }, { k: dKappaT, deg: dMuT, color: PURPLE, lw: 2.5, hl: 9, hw: 8 }]}
        arc={{ r: 20, deg: dMuT, color: PURPLE, lw: 1.8 }} />
      <Vec box={[350, 318, 95, 87]} o={[385, 387]} unit={6.4} ax={[-28, 45, -13, 59]}
        vecs={[{ k: eKappaT, deg: eMuT, color: PURPLE, lw: 2.5, hl: 9, hw: 8 }, { k: eVtLen, deg: eVtDeg, from: eTip, color: GREEN, lw: 2.5, hl: 8, hw: 9 }]}
        arc={{ r: 20, deg: eMuT, color: PURPLE, lw: 1.8 }} />
      <Vec box={[578, 330, 82, 75]} o={[613, 387]} unit={6.4} ax={[-28, 45, -13, 47]}
        vecs={[{ k: fKappaT, deg: fMuT, color: PURPLE, lw: 2.5, hl: 9, hw: 8 }]}
        arc={{ r: 20, deg: fMuT, color: PURPLE, lw: 1.8 }} star={{ r: 6.5, color: "#7cc243" }} />

      {/* Row 3 charts */}
      <ChartBox x={369} y={447} w={53} h={54} cfg={() => matCfg(gConn)} />
      <ChartBox x={447} y={447} w={52} h={54} cfg={() => matCfg(gConst)} />
      <ChartBox x={522} y={447} w={52} h={54} cfg={() => matCfg(gSym)} />
      <ChartBox x={595} y={447} w={52} h={54} cfg={() => matCfg(gAsym)} />
      <ChartBox x={0} y={500} w={325} h={82} cfg={cfgHD} />
      <ChartBox x={0} y={580} w={325} h={76} cfg={cfgCert} />
      <ChartBox x={0} y={655} w={325} h={78} cfg={cfgHeat} />
      <ChartBox x={460} y={530} w={217} h={90} cfg={cfgIacc} />
      <ChartBox x={460} y={618} w={217} h={100} cfg={cfgIcert} />

      {/* Row 1 text */}
      <T x={42} y={19} s={27} a="c">A</T>
      <T x={295} y={21} s={27} a="c">B</T>
      <T x={510} y={19} s={27} a="c">C</T>
      <T x={9} y={101} s={18} r w={168}>Population activity (au)</T>
      <T x={18} y={178} s={18} w={164}>Preferred head direction <It>φ</It><Sub><It>i</It></Sub></T>
      <T x={88} y={47} s={15} f={SERIF} c={kappaColors[0]}><It>κ</It> = 10</T>
      <T x={84} y={62} s={15} f={SERIF} c={kappaColors[1]}><It>κ</It> = 7</T>
      <T x={72} y={77} s={15} f={SERIF} c={kappaColors[2]}><It>κ</It> = 4</T>
      <T x={54} y={91} s={15} f={SERIF} c={kappaColors[3]}><It>κ</It> = 1</T>
      <T x={152} y={128} s={15} f={SERIF} c="#9a9a9a"><It>μ</It> = <Fr n="π" d="4" /></T>
      <T x={218} y={86} s={17} c={PURPLE} w={52}>Phasor</T>
      <T x={247} y={108} s={16} c={PURPLE} a="c">repr.</T>
      <T x={422} y={86} s={17} c={PURPLE} w={46}>Vector</T>
      <T x={448} y={108} s={16} c={PURPLE} a="c">repr.</T>
      <T x={290} y={53} s={15} f={SERIF} c={kappaColors[0]}><It>κ</It> = 10</T>
      <T x={362} y={53} s={15} f={SERIF} c={kappaColors[1]}><It>κ</It> = 7</T>
      <T x={290} y={117} s={15} f={SERIF} c={kappaColors[2]}><It>κ</It> = 4</T>
      <T x={362} y={117} s={15} f={SERIF} c={kappaColors[3]}><It>κ</It> = 1</T>
      <T x={326} y={82} s={14} f={SERIF} c="#9a9a9a"><It>μ</It></T>
      <T x={487} y={85} s={18} r w={136}>Probability density</T>
      <T x={542} y={182} s={18} w={118}>Head direction <It>φ</It></T>
      <T x={552} y={69} s={16} f={SERIF} c={kappaColors[0]}><It>κ</It> = 10</T>
      <T x={558} y={94} s={16} f={SERIF} c={kappaColors[1]}><It>κ</It> = 7</T>
      <T x={548} y={113} s={16} f={SERIF} c={kappaColors[2]}><It>κ</It> = 4</T>
      <T x={518} y={128} s={16} f={SERIF} c={kappaColors[3]}><It>κ</It> = 1</T>
      <T x={615} y={13} s={15} f={SERIF} c="#9a9a9a"><It>μ</It> = <Fr n="π" d="4" /></T>

      {/* Row 2 text */}
      <T x={57} y={221} s={16} c={HDBLUE} w={120}>HD observations</T>
      <T x={358} y={221} s={16} c={GREEN} w={212}>Angular velocity observations</T>
      <T x={15} y={257} s={28} a="c">D</T>
      <T x={241} y={257} s={28} a="c">E</T>
      <T x={459} y={257} s={28} a="c">F</T>
      <T x={12} y={297} s={15} f={SERIF} c="#333">∝ <It>κ</It><Sub><It>z</It></Sub></T>
      <T x={267} y={342} s={15} f={SERIF} c="#333">∝ <It>v</It><Sub><It>t</It></Sub></T>
      <T x={508} y={316} s={15} f={SERIF} c="#333">∝ <It>κ</It><Sup>2</Sup><span style={{ marginLeft: -6 }}><Sub><It>t</It></Sub></span></T>
      <T x={195} y={363} s={14} f={SERIF}><It>κ</It><Sub><It>t</It></Sub></T>
      <T x={147} y={374} s={14} f={SERIF}><It>κ</It><Sub><It>z</It></Sub></T>
      <T x={181} y={383} s={14} f={SERIF}><It>μ</It><Sub><It>t</It></Sub></T>
      <T x={418} y={333} s={14} f={SERIF}><It>v</It><Sub><It>t</It></Sub></T>
      <T x={403} y={362} s={14} f={SERIF}><It>κ</It><Sub><It>t</It></Sub></T>
      <T x={392} y={382} s={14} f={SERIF}><It>μ</It><Sub><It>t</It></Sub></T>
      <T x={640} y={347} s={15} f={SERIF}>∝ <It>κ</It><Sup>2</Sup><span style={{ marginLeft: -6 }}><Sub><It>t</It></Sub></span></T>
      <T x={628} y={362} s={14} f={SERIF}><It>κ</It><Sub><It>t</It></Sub></T>
      <T x={617} y={382} s={14} f={SERIF}><It>μ</It><Sub><It>t</It></Sub></T>

      {/* G text */}
      <T x={339} y={421} s={36} a="c">G</T>
      <T x={394} y={417} s={15} a="c">exc. rec.</T>
      <T x={394} y={430} s={15} a="c" w={85}>connectivity</T>
      <T x={363} y={441} s={13} f={SERIF} a="c">π</T>
      <T x={358} y={472} s={16} r>post</T>
      <T x={356} y={506} s={13} f={SERIF} a="c">−π</T>
      <T x={394} y={509} s={16} a="c">pre</T>
      <T x={424} y={506} s={13} f={SERIF} a="c">π</T>
      <T x={432} y={482} s={20} f={SERIF} a="c" c="#555">=</T>
      <T x={510} y={482} s={22} f={SERIF} a="c" c="#555">+</T>
      <T x={585} y={482} s={22} f={SERIF} a="c" c="#555">+</T>
      <T x={652} y={482} s={20} f={SERIF} c="#555">+...</T>
      <T x={472} y={436} s={15} f={SERIF} a="c"><It>w</It><Sup>const</Sup>×</T>
      <T x={547} y={436} s={15} f={SERIF} a="c"><It>w</It><Sup>sym</Sup>×</T>
      <T x={624} y={436} s={15} f={SERIF} a="c"><It>w</It><Sup>asym</Sup>(<It>v</It><Sub><It>t</It></Sub>)×</T>
      <T x={507} y={512} s={16} a="c" c="#c0141e">exc.</T>
      <T x={572} y={512} s={16} a="c" c="#3a55b5">inh.</T>

      {/* H text */}
      <T x={15} y={480} s={34} a="c">H</T>
      <T x={101} y={495} s={16} a="c">Visual cue</T>
      <T x={188} y={495} s={16} a="c" c="#fff">Darkness</T>
      <T x={275} y={495} s={16} a="c">Visual cue</T>
      <T x={10} y={543} s={16} r>HD</T>
      <T x={27} y={545} s={16} r w={65}>estimate</T>
      <T x={9} y={615} s={16} r w={56}>Certainty/</T>
      <T x={26} y={618} s={16} r w={71}>Amplitude</T>
      <T x={26} y={696} s={16} r w={55}>Neuron</T>
      <T x={75} y={746} s={16} a="c">20s</T>
      <T x={343} y={572} s={16}>True HD</T>
      <T x={343} y={591} s={16}>circKF</T>
      <T x={343} y={609} s={16}>Bayesian</T>
      <T x={343} y={627} s={16}>ring attractor</T>
      <T x={330} y={655} s={16}>Activity</T>
      <T x={340} y={675} s={15}>10</T>
      <T x={340} y={697} s={15}>0</T>
      <T x={336} y={723} s={15}>−10</T>

      {/* I text */}
      <T x={466} y={538} s={22} a="c" b>I</T>
      <T x={477} y={578} s={15} r w={65}>Inference</T>
      <T x={493} y={578} s={15} r w={55}>accuracy</T>
      <T x={496} y={668} s={16} r w={77}>Certainty <It>κ</It><Sub><It>t</It></Sub></T>
      <T x={602} y={728} s={16} a="c">HD observation</T>
      <T x={602} y={744} s={16} a="c">information rate [s⁻¹]</T>
    </div>
  );
}
